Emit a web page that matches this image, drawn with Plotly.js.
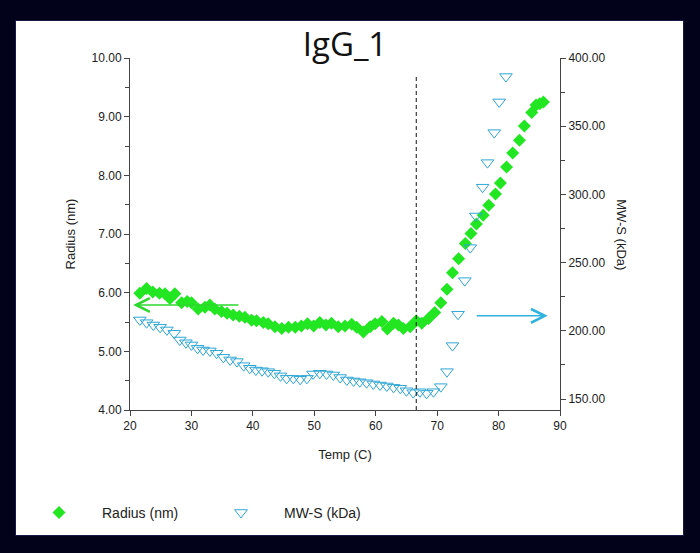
<!DOCTYPE html>
<html>
<head>
<meta charset="utf-8">
<script src="https://cdn.plot.ly/plotly-3.0.1.min.js"></script>
<style>
  html, body { margin: 0; padding: 0; width: 700px; height: 553px; background: #02021a; overflow: hidden; }
  #frame { position: absolute; left: 15px; top: 20px; width: 669px; height: 516px; background: #1a1a4a; }
  #chart { position: absolute; left: 16px; top: 21px; width: 667px; height: 514px; background: #ffffff; }
</style>
</head>
<body>
<div id="frame"></div>
<div id="chart"></div>
<script>
// Radius (nm) series
const tempRadius = [21.6,22.7,23.7,24.8,25.7,26.5,27.3,28.4,29.3,30.0,31.1,32.2,33.0,33.8,34.9,35.8,36.8,37.8,38.7,39.8,40.6,41.7,42.5,43.6,44.7,45.8,46.9,47.9,48.9,49.9,50.9,51.9,52.8,53.9,55.0,56.1,56.9,58.0,59.1,59.9,61.0,61.9,62.9,63.7,64.5,65.6,66.6,67.5,68.6,69.6,70.6,71.6,72.5,73.5,74.6,75.5,76.4,77.5,78.4,79.5,80.3,81.3,82.3,83.4,84.2,85.4,86.1,86.7,87.3];
const radius = [5.99,6.07,6.01,5.99,5.98,5.90,5.98,5.83,5.85,5.83,5.72,5.75,5.79,5.72,5.68,5.65,5.62,5.60,5.58,5.53,5.52,5.49,5.47,5.42,5.39,5.41,5.41,5.43,5.47,5.43,5.49,5.45,5.48,5.42,5.43,5.46,5.41,5.33,5.42,5.47,5.51,5.38,5.48,5.45,5.39,5.42,5.52,5.48,5.56,5.66,5.83,6.06,6.34,6.58,6.84,7.01,7.17,7.32,7.49,7.68,7.87,8.14,8.38,8.60,8.84,9.07,9.20,9.22,9.25];

// MW-S (kDa) series
const tempMw = [21.6,22.7,23.8,24.9,26.0,27.2,28.1,29.1,30.0,31.0,31.9,33.0,34.1,35.2,36.3,37.4,38.5,39.5,40.5,41.5,42.5,43.5,44.5,45.5,46.6,47.7,48.8,49.8,50.9,52.0,53.1,54.2,55.3,56.4,57.4,58.5,59.6,60.7,61.8,62.9,64.0,65.0,66.1,67.2,68.3,69.4,70.6,71.6,72.5,73.4,74.5,75.4,76.3,77.4,78.2,79.3,80.1,81.2];
const mw = [208.0,206.0,204.3,202.6,200.7,198.2,193.3,191.3,189.7,187.2,186.0,185.3,183.6,180.6,178.7,177.5,174.5,172.6,171.3,170.8,170.1,168.9,167.0,165.2,165.2,164.5,165.2,168.4,168.9,168.4,167.7,165.8,164.0,163.3,162.7,162.0,161.1,160.3,159.6,158.6,157.9,156.1,154.7,155.4,154.2,155.4,159.1,170.1,189.2,212.2,236.8,261.0,284.2,305.3,323.3,345.3,367.8,386.4];

const onsetTemp = 66.6;
const titleText = 'IgG_1';
const xTitle = 'Temp (C)';
const yTitle = 'Radius (nm)';
const y2Title = 'MW-S (kDa)';
const tempTicks = [20,30,40,50,60,70,80,90];
const radiusTicks = [4,5,6,7,8,9,10];
const mwTicks = [150,200,250,300,350,400];

const tickFont = {family: 'Liberation Sans, Arial, sans-serif', size: 12, color: '#222'};
const labelFont = {family: 'Liberation Sans, Arial, sans-serif', size: 13, color: '#222'};
const axisCommon = {
  showgrid: false, zeroline: false, showline: true, linecolor: '#444', linewidth: 1,
  ticks: 'outside', ticklen: 5, tickcolor: '#444', tickfont: tickFont
};

const traces = [
  {
    x: tempRadius, y: radius, name: 'Radius (nm)', type: 'scatter', mode: 'markers',
    marker: {symbol: 'diamond', size: 10, color: '#22e622'}, xaxis: 'x', yaxis: 'y'
  },
  {
    x: tempMw, y: mw, name: 'MW-S (kDa)', type: 'scatter', mode: 'markers',
    marker: {symbol: 'triangle-down-open', size: 11, color: '#2fa6d6', line: {width: 1}}, xaxis: 'x', yaxis: 'y2'
  }
];

const layout = {
  width: 667, height: 514,
  margin: {l: 114, r: 123, t: 37, b: 125},
  paper_bgcolor: '#ffffff', plot_bgcolor: '#ffffff',
  showlegend: true,
  title: {text: titleText, font: {family: 'Open Sans, sans-serif', size: 33, color: '#111'}, x: 0.5, xref: 'paper', y: 0.955, yref: 'container', yanchor: 'middle'},
  xaxis: Object.assign({}, axisCommon, {
    range: [20, 90], tickvals: tempTicks,
    title: {text: xTitle, font: labelFont, standoff: 17}
  }),
  yaxis: Object.assign({}, axisCommon, {
    range: [4, 10], tickvals: radiusTicks, tickformat: '.2f',
    minor: {ticks: 'outside', ticklen: 4, tickcolor: '#444', tick0: 4.5, dtick: 1},
    title: {text: yTitle, font: labelFont, standoff: 13}
  }),
  yaxis2: Object.assign({}, axisCommon, {
    range: [142, 400], tickvals: mwTicks, tickformat: '.2f', side: 'right', overlaying: 'y',
    minor: {ticks: 'outside', ticklen: 4, tickcolor: '#444', tick0: 175, dtick: 50}
  }),
  legend: {
    orientation: 'h', xref: 'container', yref: 'container', x: 0, xanchor: 'left', y: 0.043, yanchor: 'middle',
    font: {family: 'Liberation Sans, Arial, sans-serif', size: 14, color: '#222'},
    itemwidth: 76, entrywidth: 91, entrywidthmode: 'pixels', bgcolor: 'rgba(0,0,0,0)'
  },
  shapes: [
    {type: 'line', xref: 'x', yref: 'y', x0: onsetTemp, x1: onsetTemp, y0: 4, y1: 9.7,
     line: {color: '#111', width: 1, dash: '4px,3px'}}
  ],
  annotations: [
    {text: y2Title, textangle: 90, xref: 'paper', yref: 'paper', x: 1.144, y: 0.497, xanchor: 'center', yanchor: 'middle', showarrow: false,
     font: labelFont},
    {text: '', xref: 'x', yref: 'y', axref: 'x', ayref: 'y', x: 20.5, y: 5.79, ax: 37.9, ay: 5.79,
     showarrow: true, arrowhead: 5, arrowsize: 1.8, arrowwidth: 1.5, arrowcolor: '#2ed82e'},
    {text: '', xref: 'x', yref: 'y2', axref: 'x', ayref: 'y2', x: 88.0, y: 211, ax: 76.2, ay: 211,
     showarrow: true, arrowhead: 5, arrowsize: 1.8, arrowwidth: 1.5, arrowcolor: '#2fb2de'}
  ]
};

Plotly.newPlot('chart', traces, layout, {displayModeBar: false, staticPlot: true});
</script>
</body>
</html>
